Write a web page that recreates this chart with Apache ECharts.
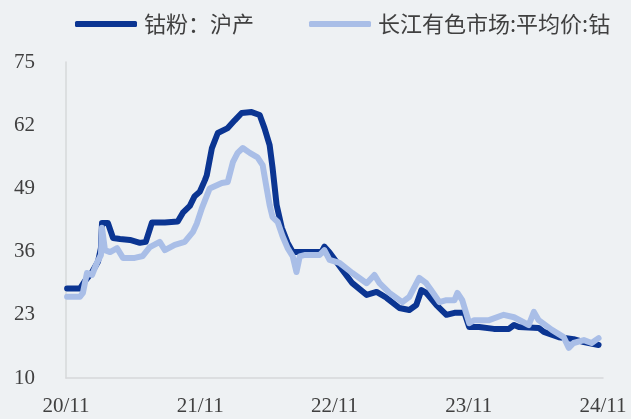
<!DOCTYPE html>
<html>
<head>
<meta charset="utf-8">
<script src="https://cdn.jsdelivr.net/npm/echarts@6/dist/echarts.min.js"></script>
<style>
html,body{margin:0;padding:0;background:#eef1f3;}
#c{width:631px;height:419px;}
</style>
</head>
<body>
<div id="c"></div>
<script>
// Series names
const seriesNames = ['钴粉：沪产', '长江有色市场:平均价:钴'];

// 钴粉：沪产
const darkDates = ['2020-11-04','2020-12-09','2020-12-23','2021-01-11','2021-01-27','2021-02-04','2021-02-07','2021-02-23','2021-03-09','2021-03-28','2021-04-24','2021-05-21','2021-06-06','2021-06-23','2021-07-28','2021-09-01','2021-09-15','2021-10-04','2021-10-17','2021-10-31','2021-11-14','2021-11-19','2021-12-03','2021-12-19','2022-01-15','2022-02-03','2022-02-22','2022-03-21','2022-04-12','2022-04-25','2022-05-09','2022-05-17','2022-05-28','2022-06-11','2022-06-27','2022-07-11','2022-07-30','2022-09-27','2022-10-05','2022-10-19','2022-11-23','2022-12-20','2023-01-28','2023-02-24','2023-03-23','2023-04-27','2023-05-24','2023-06-12','2023-06-26','2023-07-09','2023-08-06','2023-09-02','2023-09-24','2023-10-21','2023-11-03','2023-11-30','2024-01-09','2024-02-19','2024-03-04','2024-03-17','2024-05-10','2024-05-24','2024-07-04','2024-08-13','2024-09-10','2024-10-20'];
const darkValues = [28.4,28.4,30,31.8,33.9,36.7,41.9,41.9,38.8,38.6,38.4,37.8,38,42,42,42.2,44,45.4,47.4,48.3,50.7,51.7,57.3,60.4,61.4,63,64.5,64.7,64.1,61.4,57.9,53.2,45.6,40.9,37.8,35.9,35.9,35.9,37,35.8,32.2,29.5,27.1,27.7,26.5,24.4,24,25,28.1,27.5,25,23,23.4,23.4,20.5,20.5,20.1,20.1,20.9,20.5,20.3,19.5,18.4,18,17.4,16.8];

// 长江有色市场:平均价:钴
const lightDates = ['2020-11-04','2020-12-09','2020-12-17','2020-12-28','2021-01-11','2021-01-24','2021-02-04','2021-02-07','2021-02-15','2021-03-01','2021-03-20','2021-04-05','2021-05-07','2021-05-29','2021-06-17','2021-07-14','2021-07-28','2021-08-24','2021-09-20','2021-10-12','2021-10-23','2021-11-06','2021-11-27','2021-12-30','2022-01-15','2022-01-29','2022-02-11','2022-02-25','2022-03-16','2022-04-06','2022-04-20','2022-05-01','2022-05-09','2022-05-17','2022-05-31','2022-06-13','2022-06-27','2022-07-11','2022-07-21','2022-07-30','2022-08-12','2022-09-22','2022-10-05','2022-10-19','2022-11-15','2022-12-20','2023-01-28','2023-02-18','2023-03-04','2023-03-31','2023-05-05','2023-05-24','2023-06-20','2023-07-09','2023-07-26','2023-08-14','2023-09-02','2023-09-24','2023-10-02','2023-10-15','2023-11-03','2023-11-17','2023-12-27','2024-02-05','2024-03-04','2024-04-13','2024-04-27','2024-05-10','2024-06-15','2024-07-17','2024-07-31','2024-08-13','2024-09-10','2024-10-01','2024-10-20'];
const lightValues = [26.7,26.7,27.5,31.6,31.2,33.7,35.3,40.9,36.3,35.9,36.7,34.7,34.7,35.1,36.9,38,36.3,37.4,38,40,41.8,45,49,50.1,50.3,54.4,56.3,57.3,56.3,55.4,53.8,49,45.6,43.1,42.1,39.2,36.7,35,31.8,35,35.3,35.3,36.3,34.3,33.7,31.6,29.5,31.2,29.5,27.5,25.6,26.7,30.6,29.5,27.7,25.6,26,26,27.5,26,21.3,21.9,21.9,23,22.5,20.9,23.6,21.9,19.9,18.4,16.2,17.2,17.8,17.2,18.2];

// Axis ranges / ticks
const xStart = '2020-11-01';
const xEnd = '2024-11-01';
const yMin = 10, yMax = 75, yStep = 13;

function ts(s){ const p = s.split('-').map(Number); return Date.UTC(p[0], p[1]-1, p[2]); }
const x0 = ts(xStart), x1 = ts(xEnd);

const chart = echarts.init(document.getElementById('c'), null, {renderer:'canvas'});
const serif = '"Liberation Serif", "DejaVu Serif", serif';
const cjk = '"Noto Sans CJK SC", "Noto Sans", sans-serif';

chart.setOption({
  backgroundColor: '#eef1f3',
  animation: false,
  legend: {
    top: 8,
    left: 70,
    itemWidth: 62,
    itemHeight: 6,
    itemGap: 55,
    icon: 'roundRect',
    textStyle: {fontFamily: cjk, fontSize: 22, color: '#404040', padding:[0,0,0,2]},
    data: seriesNames
  },
  grid: {left: 66, right: 28, top: 62, bottom: 41, containLabel: false},
  xAxis: {
    type: 'value',
    min: x0, max: x1,
    interval: (x1 - x0) / 4,
    axisLine: {show: true, lineStyle: {color: '#d6d8da', width: 1.5}},
    axisTick: {show: false},
    splitLine: {show: false},
    axisLabel: {
      margin: 18,
      fontFamily: serif, fontSize: 21, color: '#404040',
      formatter: function(v){
        const d = new Date(v + 5*86400000);
        const yy = String(d.getUTCFullYear()).slice(2);
        const mm = String(d.getUTCMonth()+1).padStart(2,'0');
        return yy + '/' + mm;
      }
    }
  },
  yAxis: {
    type: 'value',
    min: yMin, max: yMax, interval: yStep,
    axisLine: {show: true, lineStyle: {color: '#d6d8da', width: 1.5}},
    axisTick: {show: false},
    splitLine: {show: false},
    axisLabel: {margin: 31, fontFamily: serif, fontSize: 21, color: '#404040'}
  },
  series: [
    {
      name: seriesNames[0], type: 'line', showSymbol: false,
      itemStyle: {color: '#0b3592'},
      lineStyle: {color: '#0b3592', width: 6, join: 'round', cap: 'round'},
      data: darkDates.map((d,i)=>[ts(d), darkValues[i]])
    },
    {
      name: seriesNames[1], type: 'line', showSymbol: false,
      itemStyle: {color: '#a9bee7'},
      lineStyle: {color: '#a9bee7', width: 6, join: 'round', cap: 'round'},
      data: lightDates.map((d,i)=>[ts(d), lightValues[i]])
    }
  ]
});
</script>
</body>
</html>
